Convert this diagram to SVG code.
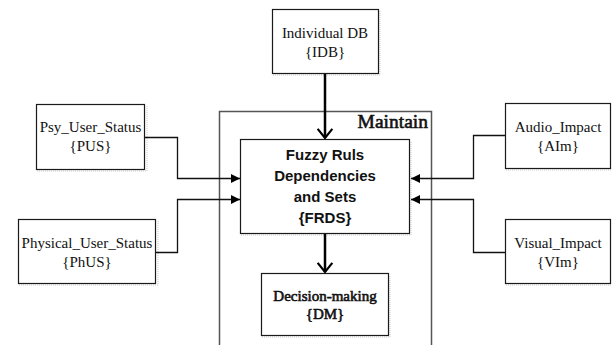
<svg xmlns="http://www.w3.org/2000/svg" width="612" height="345" viewBox="0 0 612 345">
<style>
.box{fill:#fff;stroke:#1a1a1a;stroke-width:1.2}
.shadow{fill:none;stroke:#c8c8c8;stroke-width:1;stroke-dasharray:1 1}
.t{font-family:"Liberation Serif","Times New Roman",serif;font-size:15px;fill:#111;text-anchor:middle}
.tb{font-family:"Liberation Sans",Arial,sans-serif;font-size:15px;font-weight:bold;fill:#111;text-anchor:middle}
.ts{font-family:"Liberation Serif","Times New Roman",serif;font-weight:normal;fill:#111;stroke:#111;stroke-width:0.6}
.conn{fill:none;stroke:#111;stroke-width:1.3}
.thick{fill:none;stroke:#000;stroke-width:2.5}
</style>
<defs>
<marker id="tri" viewBox="0 0 10 10" refX="10" refY="5" markerWidth="9" markerHeight="9" markerUnits="userSpaceOnUse" orient="auto">
<path d="M0,0 L10,5 L0,10 Z" fill="#000"/>
</marker>
<marker id="vee" viewBox="0 0 18 12" refX="9" refY="11" markerWidth="17" markerHeight="11" markerUnits="userSpaceOnUse" orient="0">
<path d="M1,1 L9,11 L17,1" fill="none" stroke="#000" stroke-width="2.4"/>
</marker>
</defs>

<g id="maintain">
<path d="M219.5,345 V111.5 H431.5 V345" fill="none" stroke="#555" stroke-width="1.5"/>
<text class="ts" x="428" y="128" font-size="19.5" stroke-width="0.7" text-anchor="end">Maintain</text>
</g>

<g id="IDB">
<path class="shadow" d="M273,75 H380 V11"/>
<rect class="box" x="272.5" y="9.5" width="106" height="64"/>
<text class="t" x="325" y="38">Individual DB</text>
<text class="t" x="325" y="57">{IDB}</text>
</g>

<g id="PUS">
<path class="shadow" d="M37,171 H147 V106"/>
<rect class="box" x="36.5" y="104.5" width="108" height="65"/>
<text class="t" x="90.5" y="132">Psy_User_Status</text>
<text class="t" x="90.5" y="151">{PUS}</text>
</g>

<g id="PhUS">
<path class="shadow" d="M19,285 H158 V221"/>
<rect class="box" x="18.5" y="219.5" width="137" height="64"/>
<text class="t" x="87" y="248">Physical_User_Status</text>
<text class="t" x="87" y="267">{PhUS}</text>
</g>

<g id="AIm">
<path class="shadow" d="M506,170 H612"/>
<rect class="box" x="505.5" y="103.5" width="105" height="65"/>
<text class="t" x="558" y="132">Audio_Impact</text>
<text class="t" x="558" y="151">{AIm}</text>
</g>

<g id="VIm">
<path class="shadow" d="M506,285 H612"/>
<rect class="box" x="505.5" y="219.5" width="105" height="64"/>
<text class="t" x="558" y="248">Visual_Impact</text>
<text class="t" x="558" y="267">{VIm}</text>
</g>

<g id="FRDS">
<path class="shadow" d="M241,235 H411 V141"/>
<rect class="box" x="240.5" y="139.5" width="169" height="94"/>
<text class="tb" x="325" y="160">Fuzzy Ruls</text>
<text class="tb" x="325" y="181">Dependencies</text>
<text class="tb" x="325" y="202">and Sets</text>
<text class="tb" x="325" y="223">{FRDS}</text>
</g>

<g id="DM">
<path class="shadow" d="M262,337 H390 V275"/>
<rect class="box" x="261.5" y="273.5" width="127" height="62"/>
<text class="ts" x="325" y="301" font-size="15" text-anchor="middle">Decision-making</text>
<text class="ts" x="325" y="319" font-size="15" text-anchor="middle">{DM}</text>
</g>

<g id="connectors">
<path class="thick" d="M325,74 V138" marker-end="url(#vee)"/>
<path class="thick" d="M325,234 V272" marker-end="url(#vee)"/>
<path class="conn" d="M145,137.5 H177.5 V178.5 H240" marker-end="url(#tri)"/>
<path class="conn" d="M156,252.5 H177.5 V199.5 H240" marker-end="url(#tri)"/>
<path class="conn" d="M505,135.5 H473.5 V178.5 H411" marker-end="url(#tri)"/>
<path class="conn" d="M505,252.5 H473.5 V199.5 H411" marker-end="url(#tri)"/>
</g>
</svg>
